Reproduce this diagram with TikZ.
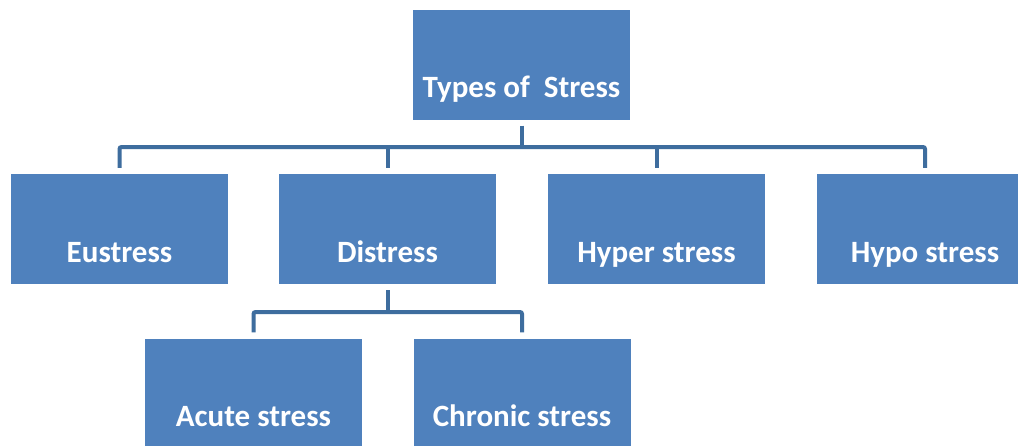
\documentclass[tikz,border=0pt]{standalone}
\usepackage{fontspec}
\setmainfont{Carlito}
\definecolor{boxblue}{HTML}{4F81BD}
\definecolor{lineblue}{HTML}{3E6D9E}
\begin{document}
\begin{tikzpicture}[x=1pt,y=-1pt,
  box/.style={fill=boxblue,draw=none,minimum width=217pt,minimum height=110pt,inner sep=0pt},
  lbl/.style={text=white,font=\fontsize{31}{36}\selectfont\bfseries,anchor=base,yshift=22pt,inner sep=0pt},
  conn/.style={draw=lineblue,line width=4pt,rounded corners=2pt}]
\clip (0,0) rectangle (1018,445);
\fill[white] (0,0) rectangle (1018,445);
\node[box,label={[lbl]south:Types of\ \ Stress}] (top) at (521.5,64.5) {};
\node[box,label={[lbl]south:Eustress}] (eu) at (119.5,229) {};
\node[box,label={[lbl]south:Distress}] (dis) at (387.5,229) {};
\node[box,label={[lbl]south:Hyper stress}] (hyper) at (656.5,229) {};
\node[box,label={[lbl]south:Hypo stress}] (hypo) at (925,229) {};
\node[box,label={[lbl]south:Acute stress}] (acute) at (253.5,393.5) {};
\node[box,label={[lbl]south:Chronic stress}] (chronic) at (522,393.5) {};
\coordinate (bus1) at (0,147);
\coordinate (bus2) at (0,312);
\draw[conn] ([yshift=-6pt]top.south) -- (top.south |- bus1);
\draw[conn] ([yshift=6pt]eu.north) -- (eu.north |- bus1) -- (hypo.north |- bus1) -- ([yshift=6pt]hypo.north);
\draw[conn] ([yshift=6pt]dis.north) -- (dis.north |- bus1);
\draw[conn] ([yshift=6pt]hyper.north) -- (hyper.north |- bus1);
\draw[conn] ([yshift=-6pt]dis.south) -- (dis.south |- bus2);
\draw[conn] ([yshift=6pt]acute.north) -- (acute.north |- bus2) -- (chronic.north |- bus2) -- ([yshift=6pt]chronic.north);
\end{tikzpicture}
\end{document}
